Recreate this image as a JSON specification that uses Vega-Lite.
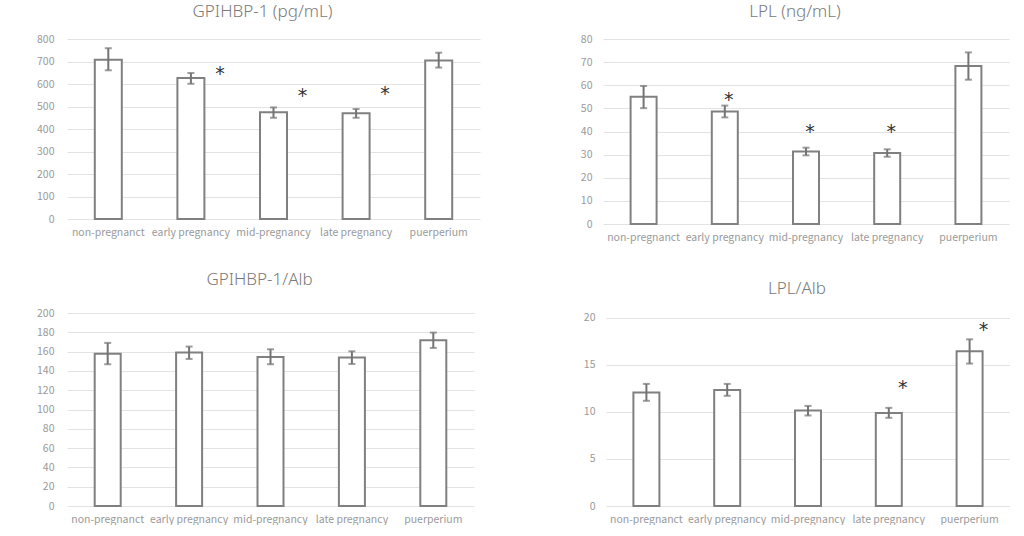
{
  "$schema": "https://vega.github.io/schema/vega-lite/v6.json",
  "padding": {"left": 36, "top": 3, "right": 0, "bottom": 0},
  "background": "white",
  "config": {
    "font": "Noto Sans CJK JP",
    "view": {"stroke": null},
    "title": {"font": "Noto Sans", "fontSize": 17, "fontWeight": 300, "color": "#7a7a7a", "dx": -11},
    "axisX": {"domain": false, "ticks": false, "grid": false, "labelColor": "#9a9a9a", "labelFontSize": 10.5, "labelPadding": 8, "labelAngle": 0, "title": null},
    "axisY": {"domain": false, "ticks": false, "grid": true, "gridColor": "#e3e3e3", "labelColor": "#9a9a9a", "labelFontSize": 10.5, "labelPadding": 13, "labelOverlap": false, "tickCount": 20, "title": null},
    "concat": {"spacing": 28}
  },
  "datasets": {
    "gp": [
      {"group": "non-pregnanct", "mean": 708, "lo": 661, "hi": 759},
      {"group": "early pregnancy", "mean": 627, "lo": 601, "hi": 649},
      {"group": "mid-pregnancy", "mean": 474, "lo": 450, "hi": 496},
      {"group": "late pregnancy", "mean": 470, "lo": 450, "hi": 489},
      {"group": "puerperium", "mean": 705, "lo": 673, "hi": 739}
    ],
    "gpStar": [
      {"group": "early pregnancy", "y": 652},
      {"group": "mid-pregnancy", "y": 556},
      {"group": "late pregnancy", "y": 566}
    ],
    "lpl": [
      {"group": "non-pregnanct", "mean": 55.0, "lo": 50.1, "hi": 59.7},
      {"group": "early pregnancy", "mean": 48.7, "lo": 46.1, "hi": 51.2},
      {"group": "mid-pregnancy", "mean": 31.4, "lo": 29.7, "hi": 33.0},
      {"group": "late pregnancy", "mean": 30.7, "lo": 29.1, "hi": 32.3},
      {"group": "puerperium", "mean": 68.3, "lo": 62.4, "hi": 74.2}
    ],
    "lplStar": [
      {"group": "early pregnancy", "y": 54.3},
      {"group": "mid-pregnancy", "y": 40.8},
      {"group": "late pregnancy", "y": 40.8}
    ],
    "gpAlb": [
      {"group": "non-pregnanct", "mean": 157.9, "lo": 146.9, "hi": 169.0},
      {"group": "early pregnancy", "mean": 159.0, "lo": 152.4, "hi": 165.2},
      {"group": "mid-pregnancy", "mean": 154.5, "lo": 146.9, "hi": 162.4},
      {"group": "late pregnancy", "mean": 153.8, "lo": 147.2, "hi": 160.3},
      {"group": "puerperium", "mean": 171.7, "lo": 163.8, "hi": 179.7}
    ],
    "lplAlb": [
      {"group": "non-pregnanct", "mean": 12.07, "lo": 11.19, "hi": 12.99},
      {"group": "early pregnancy", "mean": 12.35, "lo": 11.72, "hi": 12.99},
      {"group": "mid-pregnancy", "mean": 10.16, "lo": 9.63, "hi": 10.65},
      {"group": "late pregnancy", "mean": 9.88, "lo": 9.38, "hi": 10.44},
      {"group": "puerperium", "mean": 16.46, "lo": 15.15, "hi": 17.73}
    ],
    "lplAlbStar": [
      {"group": "late pregnancy", "y": 12.78},
      {"group": "puerperium", "y": 18.97}
    ]
  },
  "vconcat": [
    {
      "hconcat": [
        {
          "width": 413,
          "height": 180,
          "title": {"text": "GPIHBP-1 (pg/mL)", "offset": 13},
          "data": {"name": "gp"},
          "encoding": {
            "x": {"field": "group", "type": "nominal", "sort": ["non-pregnanct", "early pregnancy", "mid-pregnancy", "late pregnancy", "puerperium"], "scale": {"paddingInner": 0, "paddingOuter": 0}}
          },
          "layer": [
            {
              "mark": {"type": "bar", "fill": "white", "stroke": "#808080", "strokeWidth": 2, "width": 27},
              "encoding": {"y": {"field": "mean", "type": "quantitative", "scale": {"domain": [0, 800]}, "axis": {"values": [0, 100, 200, 300, 400, 500, 600, 700, 800], "tickCount": 20, "labelOverlap": false}}}
            },
            {
              "mark": {"type": "rule", "color": "#747474", "strokeWidth": 2},
              "encoding": {"y": {"field": "lo", "type": "quantitative"}, "y2": {"field": "hi"}}
            },
            {
              "mark": {"type": "tick", "color": "#747474", "thickness": 2, "size": 7},
              "encoding": {"y": {"field": "lo", "type": "quantitative"}}
            },
            {
              "mark": {"type": "tick", "color": "#747474", "thickness": 2, "size": 7},
              "encoding": {"y": {"field": "hi", "type": "quantitative"}}
            },
            {
              "data": {"name": "gpStar"},
              "mark": {"type": "text", "text": "*", "font": "DejaVu Sans", "fontSize": 19, "color": "#333333", "dx": 29, "dy": 8, "baseline": "alphabetic"},
              "encoding": {"y": {"field": "y", "type": "quantitative"}}
            }
          ]
        },
        {
          "width": 406,
          "height": 185,
          "title": {"text": "LPL (ng/mL)", "offset": 13},
          "data": {"name": "lpl"},
          "encoding": {
            "x": {"field": "group", "type": "nominal", "sort": ["non-pregnanct", "early pregnancy", "mid-pregnancy", "late pregnancy", "puerperium"], "scale": {"paddingInner": 0, "paddingOuter": 0}}
          },
          "layer": [
            {
              "mark": {"type": "bar", "fill": "white", "stroke": "#808080", "strokeWidth": 2, "width": 26},
              "encoding": {"y": {"field": "mean", "type": "quantitative", "scale": {"domain": [0, 80]}, "axis": {"values": [0, 10, 20, 30, 40, 50, 60, 70, 80], "tickCount": 20, "labelPadding": 11, "labelOverlap": false}}}
            },
            {
              "mark": {"type": "rule", "color": "#747474", "strokeWidth": 2},
              "encoding": {"y": {"field": "lo", "type": "quantitative"}, "y2": {"field": "hi"}}
            },
            {
              "mark": {"type": "tick", "color": "#747474", "thickness": 2, "size": 7},
              "encoding": {"y": {"field": "lo", "type": "quantitative"}}
            },
            {
              "mark": {"type": "tick", "color": "#747474", "thickness": 2, "size": 7},
              "encoding": {"y": {"field": "hi", "type": "quantitative"}}
            },
            {
              "data": {"name": "lplStar"},
              "mark": {"type": "text", "text": "*", "font": "DejaVu Sans", "fontSize": 19, "color": "#333333", "dx": 4, "dy": 8, "baseline": "alphabetic"},
              "encoding": {"y": {"field": "y", "type": "quantitative"}}
            }
          ]
        }
      ],
      "spacing": 100
    },
    {
      "hconcat": [
        {
          "width": 407,
          "height": 193,
          "title": {"text": "GPIHBP-1/Alb", "offset": 19},
          "data": {"name": "gpAlb"},
          "encoding": {
            "x": {"field": "group", "type": "nominal", "sort": ["non-pregnanct", "early pregnancy", "mid-pregnancy", "late pregnancy", "puerperium"], "scale": {"paddingInner": 0, "paddingOuter": 0}}
          },
          "layer": [
            {
              "mark": {"type": "bar", "fill": "white", "stroke": "#808080", "strokeWidth": 2, "width": 26},
              "encoding": {"y": {"field": "mean", "type": "quantitative", "scale": {"domain": [0, 200]}, "axis": {"values": [0, 20, 40, 60, 80, 100, 120, 140, 160, 180, 200], "tickCount": 20, "labelOverlap": false}}}
            },
            {
              "mark": {"type": "rule", "color": "#747474", "strokeWidth": 2},
              "encoding": {"y": {"field": "lo", "type": "quantitative"}, "y2": {"field": "hi"}}
            },
            {
              "mark": {"type": "tick", "color": "#747474", "thickness": 2, "size": 7},
              "encoding": {"y": {"field": "lo", "type": "quantitative"}}
            },
            {
              "mark": {"type": "tick", "color": "#747474", "thickness": 2, "size": 7},
              "encoding": {"y": {"field": "hi", "type": "quantitative"}}
            }
          ]
        },
        {
          "width": 404,
          "height": 193,
          "title": {"text": "LPL/Alb", "offset": 15},
          "data": {"name": "lplAlb"},
          "encoding": {
            "x": {"field": "group", "type": "nominal", "sort": ["non-pregnanct", "early pregnancy", "mid-pregnancy", "late pregnancy", "puerperium"], "scale": {"paddingInner": 0, "paddingOuter": 0}}
          },
          "layer": [
            {
              "mark": {"type": "bar", "fill": "white", "stroke": "#808080", "strokeWidth": 2, "width": 26},
              "encoding": {"y": {"field": "mean", "type": "quantitative", "scale": {"domain": [0, 20.53], "nice": false}, "axis": {"values": [0, 5, 10, 15, 20], "tickCount": 20, "labelPadding": 11, "labelOverlap": false}}}
            },
            {
              "mark": {"type": "rule", "color": "#747474", "strokeWidth": 2},
              "encoding": {"y": {"field": "lo", "type": "quantitative"}, "y2": {"field": "hi"}}
            },
            {
              "mark": {"type": "tick", "color": "#747474", "thickness": 2, "size": 7},
              "encoding": {"y": {"field": "lo", "type": "quantitative"}}
            },
            {
              "mark": {"type": "tick", "color": "#747474", "thickness": 2, "size": 7},
              "encoding": {"y": {"field": "hi", "type": "quantitative"}}
            },
            {
              "data": {"name": "lplAlbStar"},
              "mark": {"type": "text", "text": "*", "font": "DejaVu Sans", "fontSize": 19, "color": "#333333", "dx": 14, "dy": 8, "baseline": "alphabetic"},
              "encoding": {"y": {"field": "y", "type": "quantitative"}}
            }
          ]
        }
      ],
      "spacing": 109
    }
  ]
}
